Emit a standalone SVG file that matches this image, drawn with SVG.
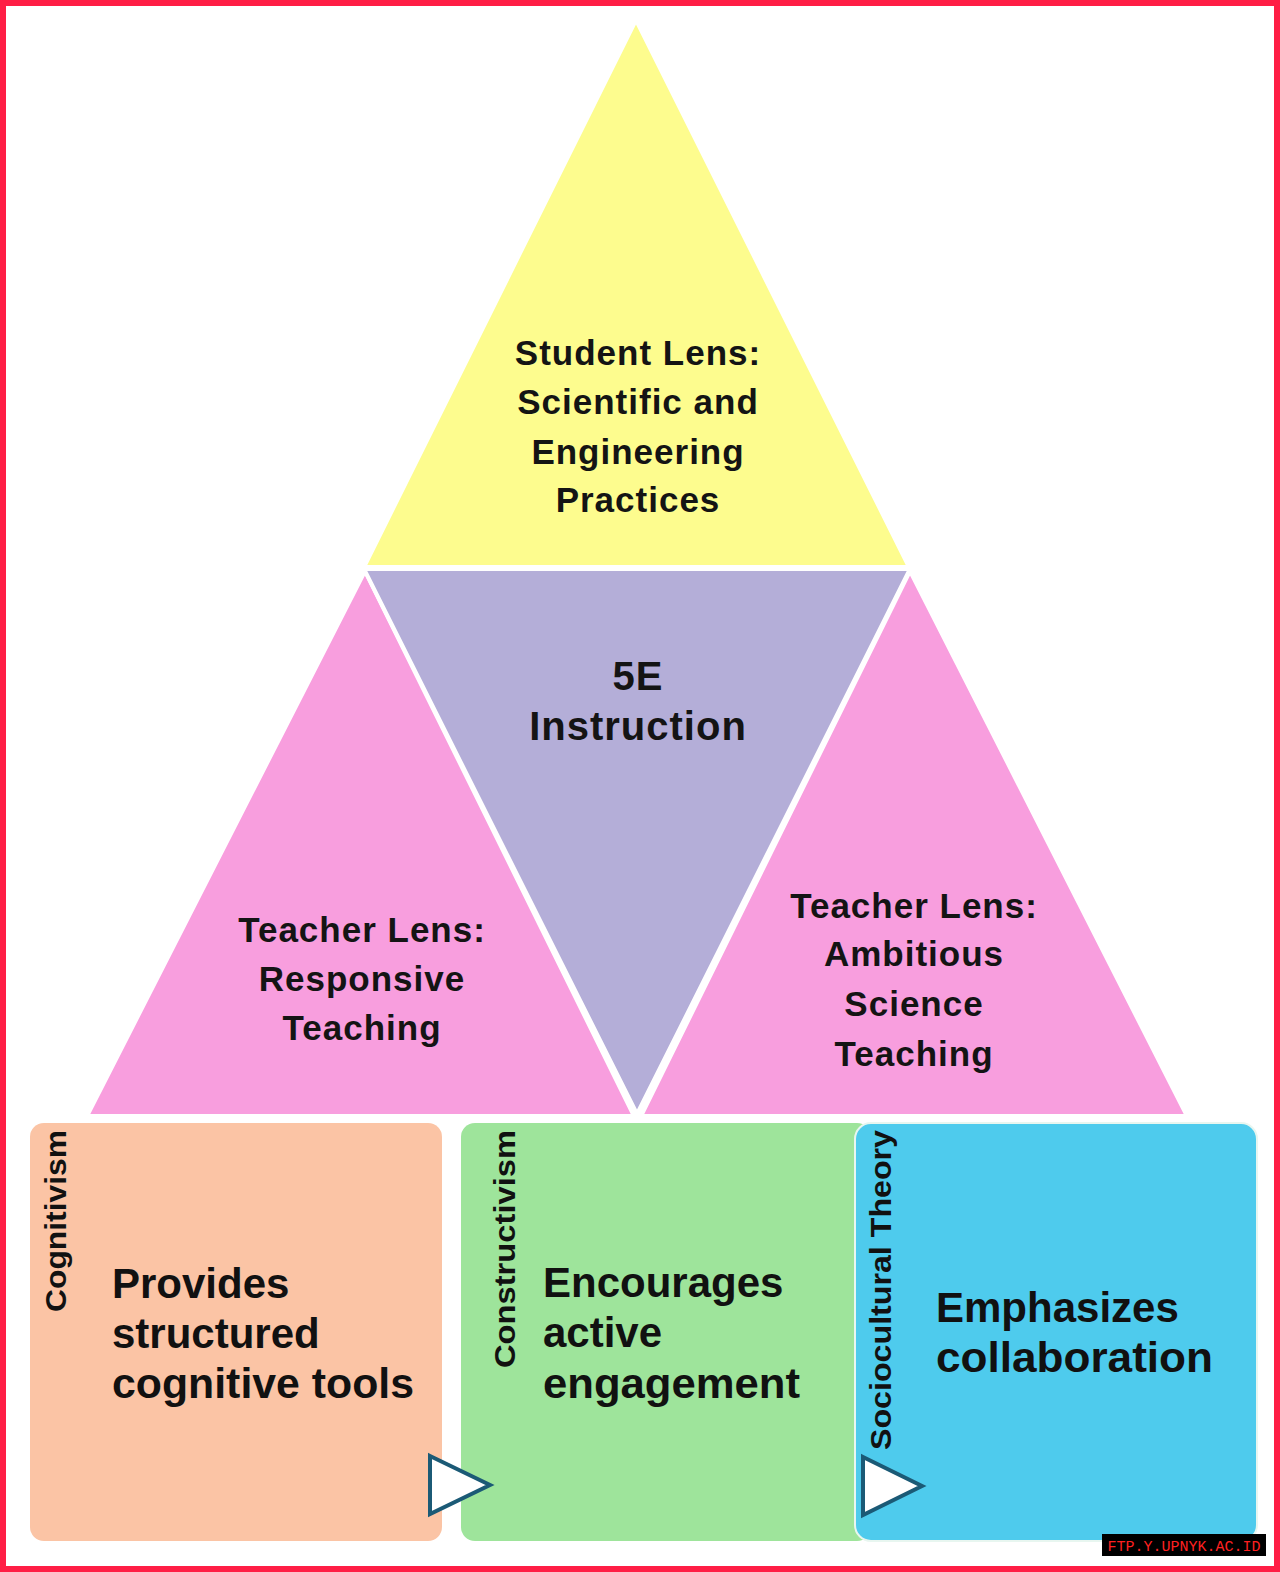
<svg xmlns="http://www.w3.org/2000/svg" width="1280" height="1572" viewBox="0 0 1280 1572">
<style>
.tri{stroke:#ffffff;stroke-width:4;stroke-linejoin:miter}
.t{font-family:"Liberation Sans",Arial,sans-serif;font-weight:bold;fill:#141414;text-anchor:middle;letter-spacing:1px}
.b{font-family:"Liberation Sans",Arial,sans-serif;font-weight:bold;fill:#111111}
.v{font-family:"Liberation Sans",Arial,sans-serif;font-weight:bold;fill:#111111;font-size:29px}
.arrow{fill:#ffffff;stroke:#1b5a76;stroke-width:4;stroke-linejoin:miter}
</style>
<rect x="0" y="0" width="1280" height="1572" fill="#ffffff"/>
<rect x="3" y="3" width="1274" height="1566" fill="none" stroke="#ff1e45" stroke-width="6"/>

<g id="student-lens">
<polygon class="tri" points="636,20 909,567 364,567" fill="#fdfc8e"/>
<text class="t" font-size="35"><tspan x="638" y="365">Student Lens:</tspan><tspan x="638" y="414">Scientific and</tspan><tspan x="638" y="464">Engineering</tspan><tspan x="638" y="512">Practices</tspan></text>
</g>
<g id="responsive-teaching">
<polygon class="tri" points="365,571 634,1116 87,1116" fill="#f89ede"/>
<text class="t" font-size="35"><tspan x="362" y="942">Teacher Lens:</tspan><tspan x="362" y="991">Responsive</tspan><tspan x="362" y="1040">Teaching</tspan></text>
</g>
<g id="ambitious-teaching">
<polygon class="tri" points="910,571 1187,1116 641,1116" fill="#f89ede"/>
<text class="t" font-size="35"><tspan x="914" y="918">Teacher Lens:</tspan><tspan x="914" y="966">Ambitious</tspan><tspan x="914" y="1016">Science</tspan><tspan x="914" y="1066">Teaching</tspan></text>
</g>
<g id="5e-instruction">
<polygon class="tri" points="364,569 910,569 637,1114" fill="#b4aed8"/>
<text class="t" font-size="40"><tspan x="638" y="690">5E</tspan><tspan x="638" y="740">Instruction</tspan></text>
</g>

<g id="cognitivism">
<rect x="30" y="1123" width="412" height="418" rx="14" fill="#fbc4a5"/>
<text class="v" transform="translate(66,1312) rotate(-90)" textLength="182" lengthAdjust="spacingAndGlyphs">Cognitivism</text>
<text class="b" font-size="42"><tspan x="112" y="1298">Provides</tspan><tspan x="112" y="1348">structured</tspan><tspan x="112" y="1398" textLength="302" lengthAdjust="spacingAndGlyphs">cognitive tools</tspan></text>
</g>
<g id="constructivism">
<rect x="461" y="1123" width="410" height="418" rx="14" fill="#9ee49b"/>
<text class="v" transform="translate(515,1368) rotate(-90)" textLength="238" lengthAdjust="spacingAndGlyphs">Constructivism</text>
<text class="b" font-size="42"><tspan x="543" y="1297">Encourages</tspan><tspan x="543" y="1347">active</tspan><tspan x="543" y="1398" textLength="257" lengthAdjust="spacingAndGlyphs">engagement</tspan></text>
</g>
<g id="sociocultural-theory">
<rect x="855" y="1123" width="402" height="418" rx="16" fill="#4ecbed" stroke="#e8f6f0" stroke-width="2"/>
<text class="v" transform="translate(891,1450) rotate(-90)" textLength="320" lengthAdjust="spacingAndGlyphs">Sociocultural Theory</text>
<text class="b" font-size="42"><tspan x="936" y="1322">Emphasizes</tspan><tspan x="936" y="1372" textLength="277" lengthAdjust="spacingAndGlyphs">collaboration</tspan></text>
</g>

<g id="connectors">
<polygon class="arrow" points="430,1456 490,1485 430,1514"/>
<polygon class="arrow" points="863,1457 922,1486 863,1515"/>
</g>

<g id="watermark">
<rect x="1102" y="1534" width="164" height="22" fill="#000000"/>
<text x="1184" y="1551" font-family="Liberation Mono,monospace" font-size="15" fill="#ff2020" text-anchor="middle">FTP.Y.UPNYK.AC.ID</text>
</g>
</svg>
